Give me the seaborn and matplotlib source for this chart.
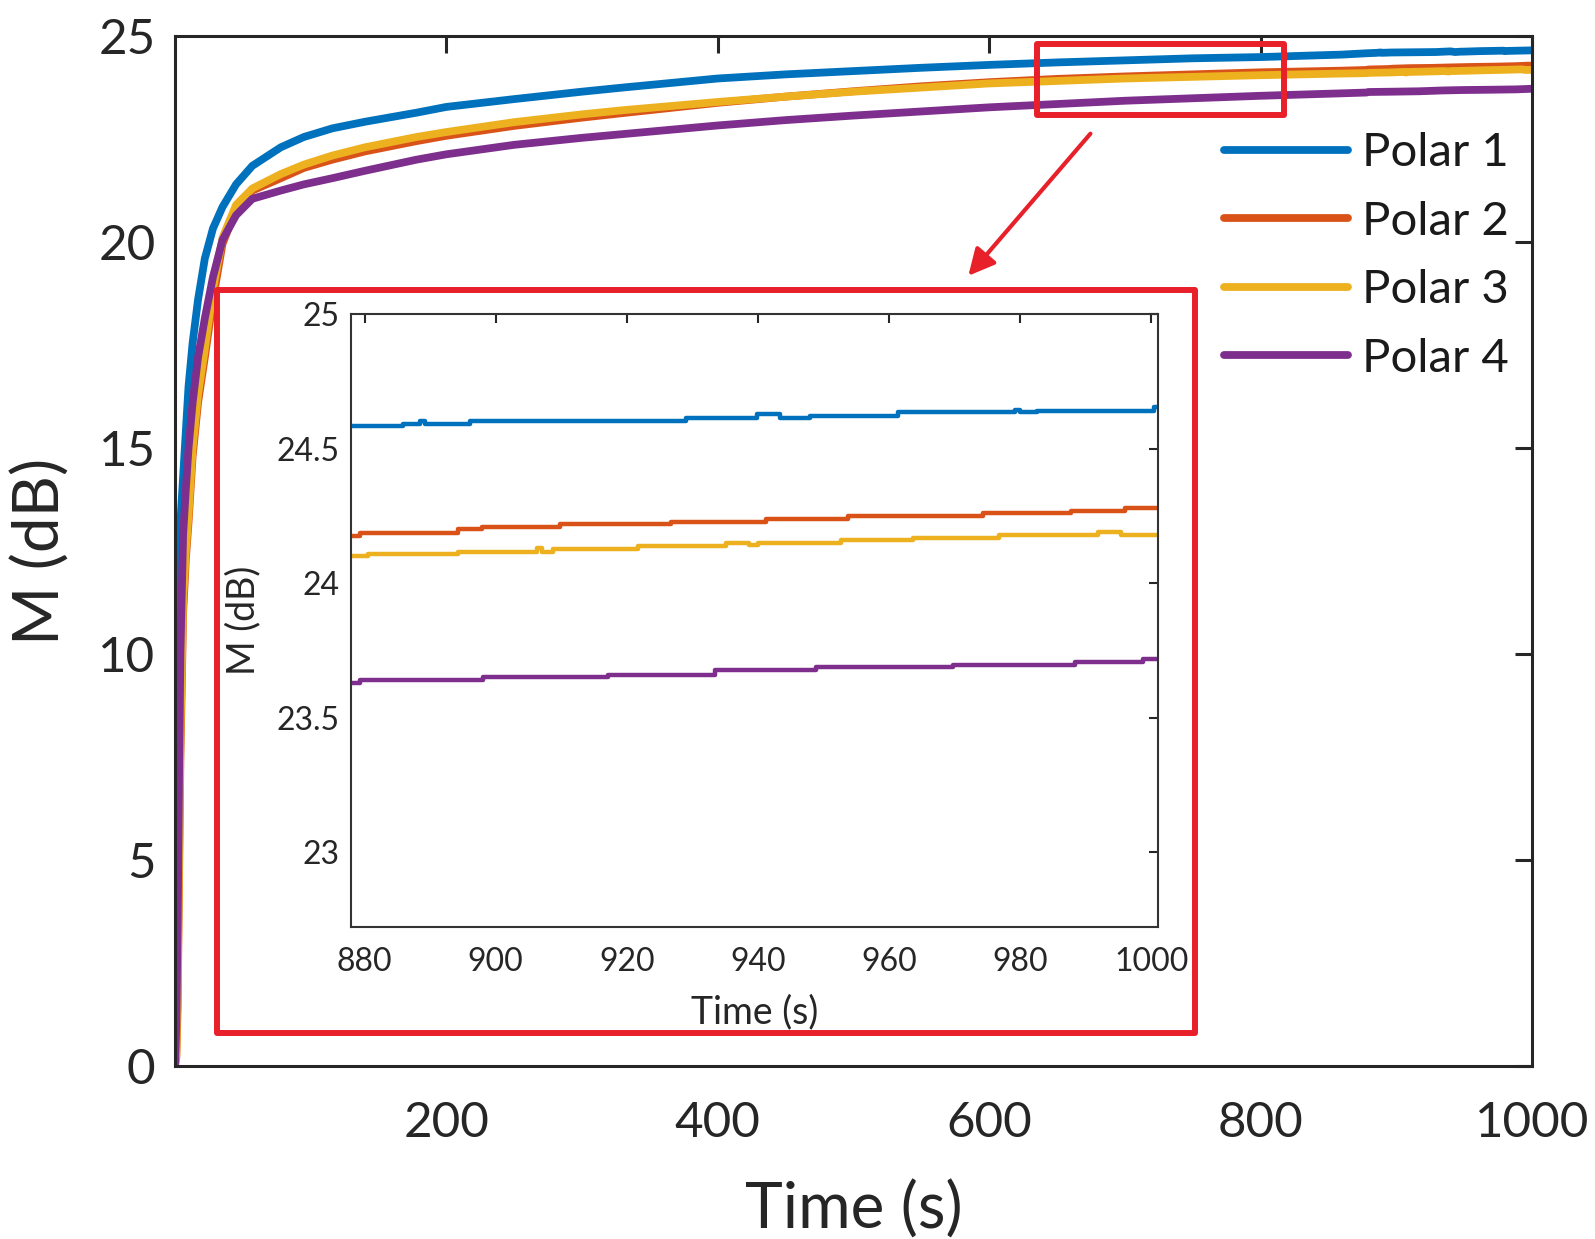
import numpy as np
import pandas as pd
import matplotlib
matplotlib.use('Agg')
import matplotlib.pyplot as plt
import seaborn as sns
from matplotlib.patches import Rectangle

# Main curves (coarse samples, t < 878 s)
time_main = [0, 1, 2, 3, 4, 6, 8, 10, 13, 17, 22, 28, 35, 45, 57, 78, 95, 116, 140, 178,
             200, 250, 300, 330, 400, 450, 500, 550, 600, 650, 700, 750, 800, 860]
polar1_main = [0, 3.0, 7.0, 11.0, 13.2, 14.3, 15.4, 16.5, 17.55, 18.6, 19.6, 20.33, 20.85,
               21.4, 21.85, 22.3, 22.55, 22.76, 22.92, 23.14, 23.28, 23.47, 23.65, 23.75,
               23.97, 24.07, 24.15, 24.23, 24.3, 24.36, 24.41, 24.46, 24.49, 24.55]
polar2_main = [0, 0.2, 1.5, 4.5, 7.5, 11.0, 12.3, 13.2, 14.8, 16.1, 17.2, 18.6, 19.95,
               20.8, 21.25, 21.55, 21.8, 22.0, 22.2, 22.45, 22.58, 22.82, 23.02, 23.13,
               23.38, 23.53, 23.66, 23.78, 23.88, 23.96, 24.02, 24.07, 24.12, 24.16]
polar3_main = [0, 0.3, 2.0, 5.0, 8.0, 11.3, 12.5, 13.4, 15.0, 16.3, 17.4, 18.85, 20.1,
               20.9, 21.3, 21.65, 21.88, 22.1, 22.3, 22.55, 22.67, 22.91, 23.1, 23.2,
               23.4, 23.53, 23.65, 23.75, 23.85, 23.91, 23.97, 24.01, 24.05, 24.09]
polar4_main = [0, 1.0, 3.5, 7.0, 10.0, 12.9, 14.0, 15.0, 16.1, 17.2, 18.15, 19.15, 20.05,
               20.65, 21.05, 21.25, 21.4, 21.55, 21.73, 22.0, 22.13, 22.36, 22.53, 22.62,
               22.83, 22.96, 23.07, 23.17, 23.27, 23.35, 23.43, 23.49, 23.55, 23.61]

# Zoomed part (step changes, 878-1001 s)
polar1_t = [878, 885.9, 888.5, 889.3, 896.1, 929.1, 939.8, 943.3, 947.9, 948.7, 961.3,
            979.2, 979.9, 982.6, 1000.4, 1001]
polar1_v = [24.582, 24.593, 24.603, 24.593, 24.601, 24.612, 24.628, 24.612, 24.622, 24.621,
            24.634, 24.645, 24.634, 24.640, 24.653, 24.653]
polar2_t = [878, 879.3, 894.3, 897.9, 909.8, 926.8, 941.3, 953.7, 974.3, 987.8, 995.9, 1001]
polar2_v = [24.177, 24.188, 24.200, 24.209, 24.221, 24.228, 24.240, 24.249, 24.259, 24.269,
            24.281, 24.281]
polar3_t = [878, 880.6, 894.3, 906.3, 907.0, 908.8, 921.7, 935.2, 938.7, 940.0, 952.7,
            963.6, 976.8, 991.8, 995.4, 1001]
polar3_v = [24.100, 24.107, 24.115, 24.130, 24.115, 24.128, 24.138, 24.150, 24.140, 24.150,
            24.159, 24.169, 24.178, 24.191, 24.178, 24.178]
polar4_t = [878, 879.3, 898.1, 917.2, 933.4, 948.9, 969.7, 988.3, 998.7, 1001]
polar4_v = [23.629, 23.642, 23.650, 23.660, 23.679, 23.690, 23.697, 23.706, 23.719, 23.719]

series_names = ['Polar 1', 'Polar 2', 'Polar 3', 'Polar 4']
colors = ['#0072BD', '#D95319', '#EDB120', '#7E2F8E']
red = '#E8202A'

main_x_ticks = [200, 400, 600, 800, 1000]
main_y_ticks = [0, 5, 10, 15, 20, 25]
inset_x_ticks = [880, 900, 920, 940, 960, 980, 1000]
inset_y_ticks = [23, 23.5, 24, 24.5, 25]
inset_y_labels = ['23', '23.5', '24', '24.5', '25']

mains = [polar1_main, polar2_main, polar3_main, polar4_main]
steps_t = [polar1_t, polar2_t, polar3_t, polar4_t]
steps_v = [polar1_v, polar2_v, polar3_v, polar4_v]

rows_main = []
rows_in = []
for name, mv, st, sv in zip(series_names, mains, steps_t, steps_v):
    for t, v in zip(time_main + st, mv + sv):
        rows_main.append((name, t, v))
    for t, v in zip(st, sv):
        rows_in.append((name, t, v))
df_main = pd.DataFrame(rows_main, columns=['Series', 'Time', 'M'])
df_in = pd.DataFrame(rows_in, columns=['Series', 'Time', 'M'])

sns.set_style('white')
plt.rcParams['font.family'] = ['Lato', 'DejaVu Sans']
plt.rcParams['axes.edgecolor'] = '#262626'
plt.rcParams['text.color'] = '#1a1a1a'
plt.rcParams['xtick.color'] = '#262626'
plt.rcParams['ytick.color'] = '#262626'

palette = dict(zip(series_names, colors))

fig = plt.figure(figsize=(15.95, 12.39), dpi=100)
ax = fig.add_axes([0.1097, 0.1396, 0.8508, 0.8313])

sns.lineplot(data=df_main, x='Time', y='M', hue='Series', palette=palette,
             linewidth=5.6, estimator=None, legend=False, ax=ax)

ax.set_xlim(0, 1000)
ax.set_ylim(0, 25)
ax.set_xticks(main_x_ticks)
ax.set_yticks(main_y_ticks)
ax.tick_params(direction='in', top=True, right=True, length=12, width=2.2,
               labelsize=35.5, pad=14)
ax.tick_params(axis='x', pad=25)
for sp in ax.spines.values():
    sp.set_linewidth(2.2)
ax.set_xlabel('Time (s)', fontsize=46, labelpad=26)
ax.set_ylabel('M (dB)', fontsize=46, labelpad=20)

leg = ax.legend(handles=ax.lines[:4], labels=series_names, loc='upper left',
                bbox_to_anchor=(0.7672, 0.8933), bbox_transform=fig.transFigure,
                frameon=False, fontsize=34, handlelength=2.63, handletextpad=0.3,
                labelspacing=0.56, borderpad=0, borderaxespad=0)
for h in leg.get_lines():
    h.set_linewidth(5.6)

# zoom rectangle and arrow
ax.add_patch(Rectangle((635.6, 23.08), 181.4, 1.72, fill=False, edgecolor=red,
                       linewidth=4.3, joinstyle='round', zorder=5))
ax.annotate('', xy=(584.6, 19.18), xytext=(674.6, 22.63),
            arrowprops=dict(arrowstyle='-|>', color=red, lw=3, mutation_scale=40,
                            shrinkA=0, shrinkB=0), zorder=5)

# red frame around inset
fig.add_artist(Rectangle((0.1359, 0.1666), 0.6135, 0.5993, transform=fig.transFigure,
                         fill=False, edgecolor=red, linewidth=4.3, joinstyle='round'))

ax_in = fig.add_axes([0.2199, 0.2521, 0.5061, 0.4945], zorder=3)
sns.lineplot(data=df_in, x='Time', y='M', hue='Series', palette=palette,
             linewidth=3.2, estimator=None, legend=False, drawstyle='steps-post',
             ax=ax_in)
ax_in.set_xlim(877.9, 1001)
ax_in.set_ylim(22.724, 25.0)
ax_in.set_xticks(inset_x_ticks)
ax_in.set_yticks(inset_y_ticks)
ax_in.set_yticklabels(inset_y_labels)
ax_in.tick_params(direction='in', top=True, right=True, length=6.5, width=1.5,
                  labelsize=23, pad=8)
ax_in.tick_params(axis='x', pad=15)
for sp in ax_in.spines.values():
    sp.set_linewidth(1.5)
    sp.set_color('#333333')
ax_in.set_xlabel('Time (s)', fontsize=27, labelpad=12)
ax_in.set_ylabel('M (dB)', fontsize=27, labelpad=11)

fig.savefig('out.png', dpi=100)
